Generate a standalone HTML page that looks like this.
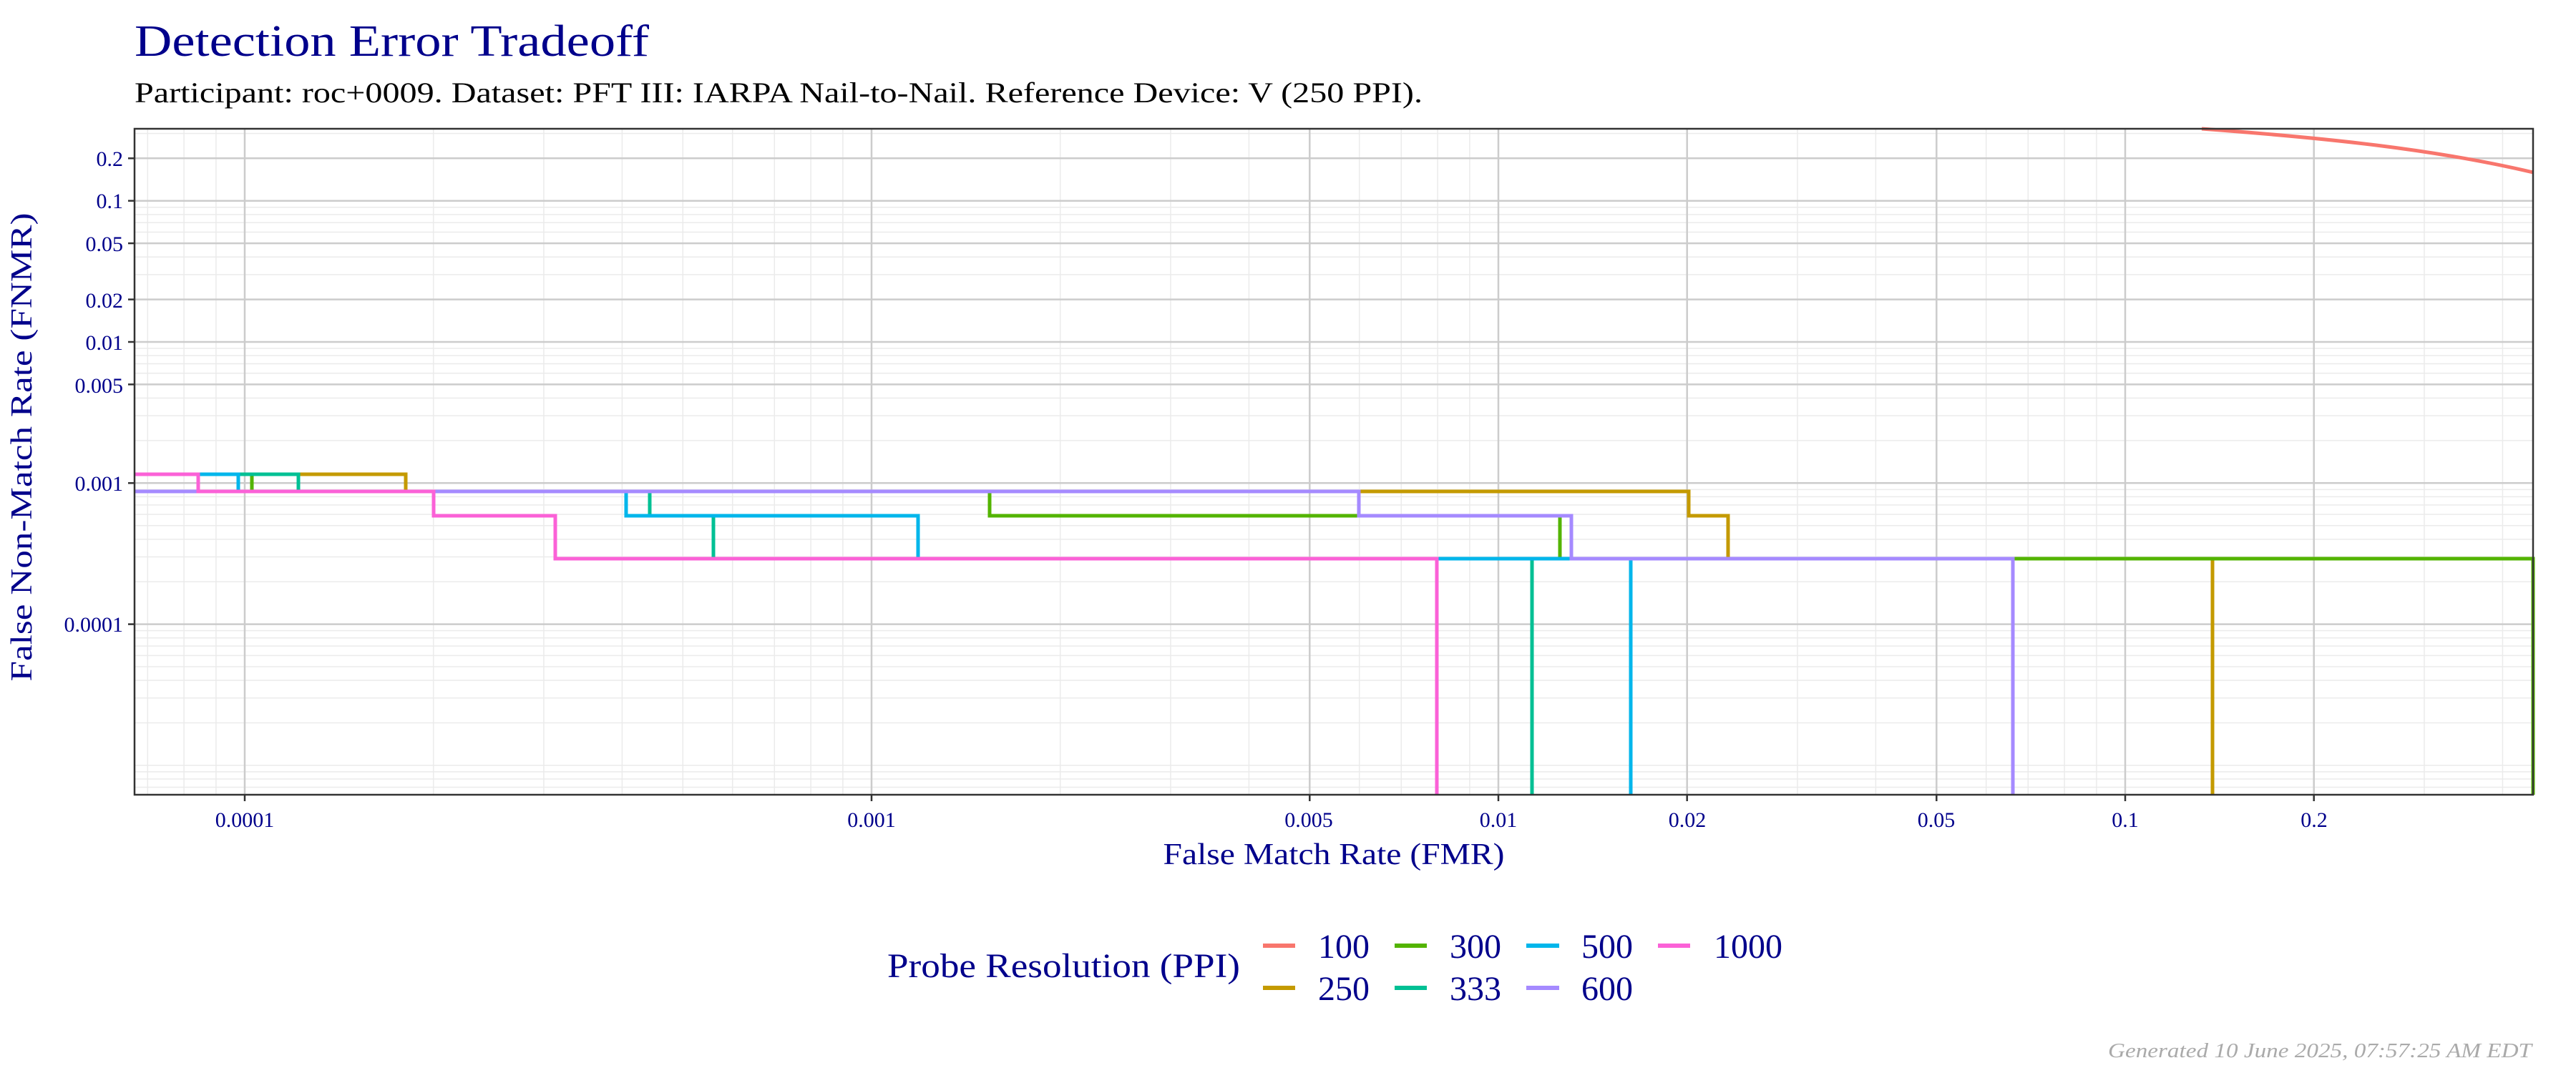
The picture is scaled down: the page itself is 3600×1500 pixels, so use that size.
<!DOCTYPE html>
<html><head><meta charset="utf-8"><style>
html,body{margin:0;padding:0;background:#fff;}
svg{display:block;}
text{font-family:"Liberation Serif",serif;}
</style></head><body>
<svg id="s" width="3600" height="1500" viewBox="0 0 3600 1500" xmlns="http://www.w3.org/2000/svg">
<rect width="3600" height="1500" fill="#fff"/>
<text x="188" y="78" font-size="62" fill="#00008B" textLength="719" lengthAdjust="spacingAndGlyphs">Detection Error Tradeoff</text>
<text x="188" y="143" font-size="40" fill="#000" textLength="1800" lengthAdjust="spacingAndGlyphs">Participant: roc+0009. Dataset: PFT III: IARPA Nail-to-Nail. Reference Device: V (250 PPI).</text>
<g id="grid"></g>
<g fill="none" stroke-width="5" stroke-linejoin="miter">
<path d="M3077,180 C3250,193 3400,208 3540,241" stroke="#F8766D"/>
<path d="M188,663 H567 V687 H2360 V721 H2415 V781 H3092 V1111" stroke="#C49A00"/>
<path d="M188,663 H352 V687 H1383 V721 H2180 V781 H3540 V1111" stroke="#53B400"/>
<path d="M188,663 H417 V687 H908 V721 H997 V781 H2141 V1111" stroke="#00C094"/>
<path d="M188,663 H333 V687 H875 V721 H1283 V781 H2279 V1111" stroke="#00B6EB"/>
<path d="M188,687 H1899 V721 H2196 V781 H2813 V1111" stroke="#A58AFF"/>
<path d="M188,663 H277 V687 H606 V721 H776 V781 H2008 V1111" stroke="#FB61D7"/>
</g>
<rect x="188" y="180" width="3352" height="931" fill="none" stroke="#333" stroke-width="2.5"/>
<g font-size="30" fill="#00008B" text-anchor="end">
<text x="172" y="232">0.2</text>
<text x="172" y="291">0.1</text>
<text x="172" y="351">0.05</text>
<text x="172" y="430">0.02</text>
<text x="172" y="489">0.01</text>
<text x="172" y="549">0.005</text>
<text x="172" y="686">0.001</text>
<text x="172" y="883">0.0001</text>
</g>
<g font-size="30" fill="#00008B" text-anchor="middle">
<text x="342" y="1156">0.0001</text>
<text x="1218" y="1156">0.001</text>
<text x="1829" y="1156">0.005</text>
<text x="2094" y="1156">0.01</text>
<text x="2358" y="1156">0.02</text>
<text x="2706" y="1156">0.05</text>
<text x="2970" y="1156">0.1</text>
<text x="3234" y="1156">0.2</text>
</g>
<text x="1864" y="1208" font-size="42" fill="#00008B" text-anchor="middle" textLength="477" lengthAdjust="spacingAndGlyphs">False Match Rate (FMR)</text>
<text transform="translate(44,625) rotate(-90)" font-size="42" fill="#00008B" text-anchor="middle" textLength="655" lengthAdjust="spacingAndGlyphs">False Non-Match Rate (FNMR)</text>
<text x="1240" y="1366" font-size="48" fill="#00008B" textLength="493" lengthAdjust="spacingAndGlyphs">Probe Resolution (PPI)</text>
<g stroke-width="6">
<line x1="1765" y1="1322" x2="1810" y2="1322" stroke="#F8766D"/>
<line x1="1765" y1="1381" x2="1810" y2="1381" stroke="#C49A00"/>
<line x1="1949" y1="1322" x2="1994" y2="1322" stroke="#53B400"/>
<line x1="1949" y1="1381" x2="1994" y2="1381" stroke="#00C094"/>
<line x1="2133" y1="1322" x2="2179" y2="1322" stroke="#00B6EB"/>
<line x1="2133" y1="1381" x2="2179" y2="1381" stroke="#A58AFF"/>
<line x1="2317" y1="1322" x2="2362" y2="1322" stroke="#FB61D7"/>
</g>
<g font-size="48" fill="#00008B">
<text x="1842" y="1339">100</text>
<text x="1842" y="1398">250</text>
<text x="2026" y="1339">300</text>
<text x="2026" y="1398">333</text>
<text x="2210" y="1339">500</text>
<text x="2210" y="1398">600</text>
<text x="2395" y="1339">1000</text>
</g>
<text x="3538" y="1478" font-size="28" font-style="italic" fill="#aaa" text-anchor="end" textLength="592" lengthAdjust="spacingAndGlyphs">Generated 10 June 2025, 07:57:25 AM EDT</text>
</svg>
<script>
(function(){
var ns="http://www.w3.org/2000/svg",g=document.getElementById("grid");
function ln(x1,y1,x2,y2,c,w){var l=document.createElementNS(ns,"line");l.setAttribute("x1",x1);l.setAttribute("y1",y1);l.setAttribute("x2",x2);l.setAttribute("y2",y2);l.setAttribute("stroke",c);l.setAttribute("stroke-width",w);g.appendChild(l);}
function X(v){return 2970+876*(Math.log10(v)+1);}
function Y(v){return 478-197.3*(Math.log10(v)+2);}
var majX=[1e-4,1e-3,0.005,0.01,0.02,0.05,0.1,0.2],majY=[0.2,0.1,0.05,0.02,0.01,0.005,0.001,1e-4];
function isM(a,v){for(var i=0;i<a.length;i++)if(Math.abs(a[i]/v-1)<1e-6)return true;return false;}
for(var d=-6;d<=0;d++)for(var m=1;m<=9;m++){var v=m*Math.pow(10,d);
 var x=X(v);if(x>188&&x<3540&&!isM(majX,v))ln(x,180,x,1111,"#ebebeb",1.5);
 var y=Y(v);if(y>180&&y<1111&&!isM(majY,v))ln(188,y,3540,y,"#ebebeb",1.5);}
majX.forEach(function(v){var x=X(v);ln(x,180,x,1111,"#cccccc",2.5);ln(x,1111,x,1120,"#333",2.5);});
majY.forEach(function(v){var y=Y(v);ln(188,y,3540,y,"#cccccc",2.5);ln(179,y,188,y,"#333",2.5);});
})();
</script>
</body></html>
